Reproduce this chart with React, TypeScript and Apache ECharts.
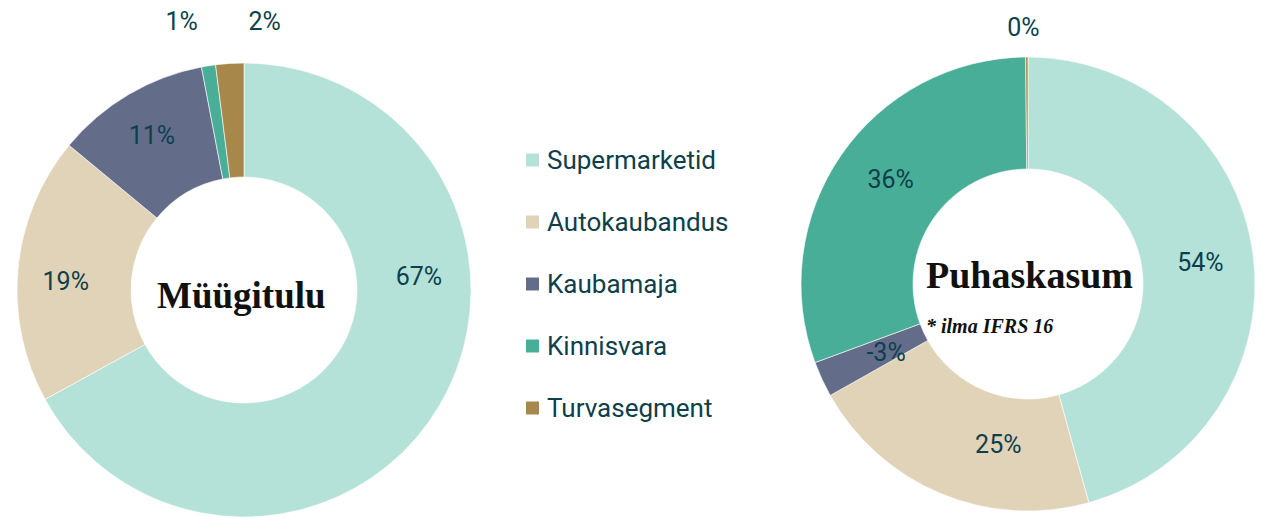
import React, { useEffect, useRef } from "react";
import * as echarts from "echarts";

const categories = ["Supermarketid", "Autokaubandus", "Kaubamaja", "Kinnisvara", "Turvasegment"];
const salesValues = [67, 19, 11, 1, 2];
const profitValues = [54, 25, -3, 36, 0.2];
const colors = ["#b5e2d8", "#e0d3b8", "#636d8a", "#48ae98", "#a8884a"];

const salesTitle = "Müügitulu";
const profitTitle = "Puhaskasum";
const profitNote = "* ilma IFRS 16";

const TEXT = "#0d3f4c";

// label nudges (style only), per series / data index
const salesLabelShift = [[26, -102], [-6, 8], [-4, -6], [-1, -15], [58, -12]];
const profitLabelShift = [[0, 2], [37, 0], [16, -5], [6, -6], [18, 0]];

function buildData(values: number[], outside: number[]) {
  return values.map((v, i) => ({
    name: categories[i],
    value: Math.abs(v),
    raw: v,
    itemStyle: { color: colors[i] },
    label: outside.includes(i)
      ? { position: "outside" as const }
      : { position: "inside" as const },
    labelLine: { show: false, length: 30, length2: 0 },
  }));
}

export default function App() {
  const ref = useRef<HTMLDivElement>(null);
  useEffect(() => {
    if (!ref.current) return;
    const chart = echarts.init(ref.current, undefined, { renderer: "svg" });
    const labelBase = {
      show: true,
      color: TEXT,
      fontFamily: "Roboto",
      fontSize: 25,
      formatter: (p: any) => `${Math.round(p.data.raw)}%`,
    };
    const shiftFn = (shifts: number[][]) => (p: any) => ({
      dx: shifts[p.dataIndex][0],
      dy: shifts[p.dataIndex][1],
      hideOverlap: false,
    });
    chart.setOption({
      animation: false,
      backgroundColor: "#ffffff",
      legend: {
        orient: "vertical",
        left: 519,
        top: 142,
        itemWidth: 15,
        itemHeight: 15,
        itemGap: 36,
        icon: "rect",
        data: categories,
        textStyle: { color: TEXT, fontFamily: "Roboto", fontSize: 26, padding: [0, 0, 0, 2] },
        selectedMode: false,
      },
      series: [
        {
          type: "pie",
          center: [244, 290],
          radius: [113, 227],
          startAngle: 90,
          clockwise: true,
          avoidLabelOverlap: false,
          itemStyle: { borderColor: "#ffffff", borderWidth: 0.6 },
          label: labelBase,
          labelLayout: shiftFn(salesLabelShift),
          data: buildData(salesValues, [3, 4]),
        },
        {
          type: "pie",
          center: [1028, 284],
          radius: [115, 227],
          startAngle: 90,
          clockwise: true,
          avoidLabelOverlap: false,
          itemStyle: { borderColor: "#ffffff", borderWidth: 0.6 },
          label: labelBase,
          labelLayout: shiftFn(profitLabelShift),
          data: buildData(profitValues, [4]),
        },
      ],
      graphic: [
        {
          type: "text",
          left: 157,
          top: 277,
          style: {
            text: salesTitle,
            fontFamily: "Liberation Serif",
            fontWeight: "bold",
            fontSize: 37,
            fill: "#111111",
          },
        },
        {
          type: "text",
          left: 926,
          top: 256,
          style: {
            text: profitTitle,
            fontFamily: "Liberation Serif",
            fontWeight: "bold",
            fontSize: 38,
            fill: "#111111",
          },
        },
        {
          type: "text",
          left: 926,
          top: 316,
          style: {
            text: profitNote,
            fontFamily: "Liberation Serif",
            fontWeight: "bold",
            fontStyle: "italic",
            fontSize: 20,
            fill: "#111111",
          },
        },
      ],
    });
    return () => chart.dispose();
  }, []);
  return (
    <div
      ref={ref}
      style={{ position: "fixed", left: 0, top: 0, width: 1266, height: 517 }}
    />
  );
}
